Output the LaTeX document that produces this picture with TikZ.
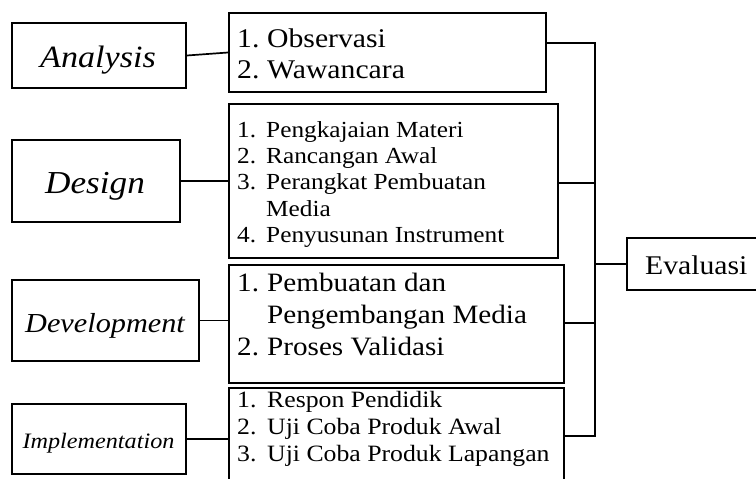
\documentclass[tikz,border=0pt]{standalone}
\usepackage{fontspec}
\setmainfont{Liberation Serif}[FakeStretch=1.1]
\newcommand\fsz[1]{\fontsize{#1}{#1}\selectfont}
\begin{document}
\begin{tikzpicture}[x=1pt,y=-1pt,
  box/.style={draw, line width=1.7pt, inner sep=0pt, rectangle},
  ln/.style={line width=1.7pt},
  lbl/.style={anchor=base, inner sep=0pt, font=\itshape},
  itm/.style={anchor=base west, inner sep=0pt}]
\useasboundingbox (0,0) rectangle (756,479);
\clip (0,0) rectangle (756,479);
\fill[white] (0,0) rectangle (756,479);
% left boxes
\node[box, minimum width=174pt, minimum height=65pt] (an) at (99,55.5) {};
\node[box, minimum width=168pt, minimum height=82pt] (de) at (96,181) {};
\node[box, minimum width=187pt, minimum height=81pt] (dv) at (105.5,320.5) {};
\node[box, minimum width=174pt, minimum height=70pt] (im) at (99,439) {};
\node[lbl] (anl) at (98,67) {\fsz{31}\itshape Analysis};
\node[lbl] (del) at (95,193) {\fsz{32}\itshape Design};
\node[lbl] (dvl) at (105,332) {\fsz{27.5}\itshape Development};
\node[lbl] (iml) at (98.5,448) {\fsz{22}\itshape Implementation};
% right boxes
\node[box, minimum width=317pt, minimum height=79pt] (b1) at (387.5,52.5) {};
\node[box, minimum width=329pt, minimum height=154pt] (b2) at (393.5,181) {};
\node[box, minimum width=335pt, minimum height=118pt] (b3) at (396.5,324) {};
\node[box, minimum width=335pt, minimum height=112pt] (b4) at (396.5,444) {};
\node[box, minimum width=153pt, minimum height=52pt] (ev) at (703.5,264) {};
% box 1 text
\node[itm] (t1a) at (237,47) {\fsz{27}1.};
\node[itm] (t1b) at (267,47) {\fsz{27}Observasi};
\node[itm] (t1c) at (237,78) {\fsz{27}2.};
\node[itm] (t1d) at (267,78) {\fsz{27}Wawancara};
% box 2 text
\node[itm] (t2a) at (237,137) {\fsz{23}1.};
\node[itm] (t2b) at (266,137) {\fsz{23}Pengkajaian Materi};
\node[itm] (t2c) at (237,163) {\fsz{23}2.};
\node[itm] (t2d) at (266,163) {\fsz{23}Rancangan Awal};
\node[itm] (t2e) at (237,189) {\fsz{23}3.};
\node[itm] (t2f) at (266,189) {\fsz{23}Perangkat Pembuatan};
\node[itm] (t2g) at (266,216) {\fsz{23}Media};
\node[itm] (t2h) at (237,242) {\fsz{23}4.};
\node[itm] (t2i) at (266,242) {\fsz{23}Penyusunan Instrument};
% box 3 text
\node[itm] (t3a) at (237,291) {\fsz{26.5}1.};
\node[itm] (t3b) at (267,291) {\fsz{26.5}Pembuatan dan};
\node[itm] (t3c) at (267,323) {\fsz{26.5}Pengembangan Media};
\node[itm] (t3d) at (237,355) {\fsz{26.5}2.};
\node[itm] (t3e) at (267,355) {\fsz{26.5}Proses Validasi};
% box 4 text
\node[itm] (t4a) at (237,407) {\fsz{23.4}1.};
\node[itm] (t4b) at (267,407) {\fsz{23.4}Respon Pendidik};
\node[itm] (t4c) at (237,434) {\fsz{23.4}2.};
\node[itm] (t4d) at (267,434) {\fsz{23.4}Uji Coba Produk Awal};
\node[itm] (t4e) at (237,461) {\fsz{23.4}3.};
\node[itm] (t4f) at (267,461) {\fsz{23.4}Uji Coba Produk Lapangan};
% evaluasi text
\node[itm] (tev) at (645,274) {\fsz{27}Evaluasi};
% left connectors
\draw[ln] (an.east) -- (b1.west);
\draw[ln] (de.east) -- (b2.west);
\draw[ln] (dv.east) -- (dv.east -| b3.west);
\draw[ln] (im.east) -- (im.east -| b4.west);
% bracket
\coordinate (j1) at (595,43);
\coordinate (j2) at (595,183);
\coordinate (j3) at (595,323);
\coordinate (j4) at (595,436);
\coordinate (je) at (595,264);
\draw[ln] (b1.east |- j1) -- (j1) -- (j4) -- (b4.east |- j4);
\draw[ln] (b2.east |- j2) -- (j2);
\draw[ln] (b3.east |- j3) -- (j3);
\draw[ln] (je) -- (ev.west);
\end{tikzpicture}
\end{document}
